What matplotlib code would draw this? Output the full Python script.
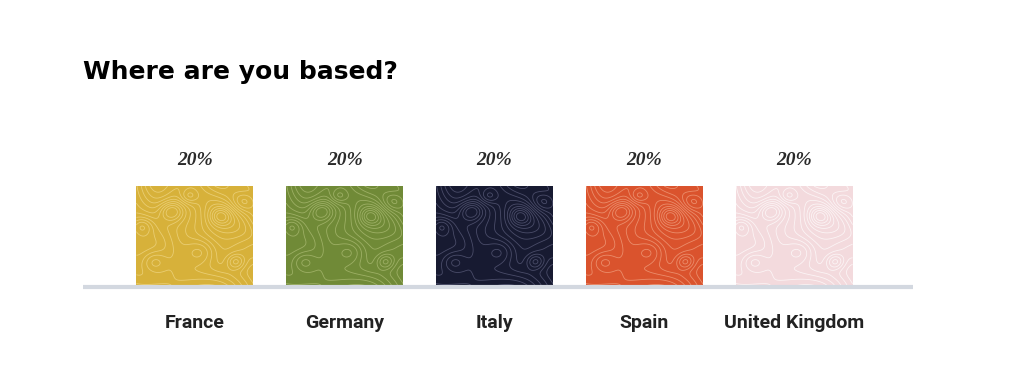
import numpy as np
import matplotlib.pyplot as plt
from matplotlib.patches import Rectangle

# ============================================================
# Data
# ============================================================
countries = ["France", "Germany", "Italy", "Spain", "United Kingdom"]
shares = [20, 20, 20, 20, 20]
bar_colors = ["#d7b13a", "#708a37", "#171a31", "#da532d", "#f3dadd"]
line_colors = ["#f1d98a", "#b0bf78", "#5f6180", "#f2a585", "#ffffff"]
title = "Where are you based?"


# ============================================================
# Helper Functions
# ============================================================
def topo_field(n=200):
    # smooth deterministic surface used only for the contour texture
    u, v = np.meshgrid(np.linspace(0, 1, n), np.linspace(0, 1, n))
    bumps = [(0.30, 0.75, 0.010, 1.0), (0.72, 0.70, 0.008, -0.8),
             (0.55, 0.35, 0.020, 0.9), (0.15, 0.25, 0.012, -0.7),
             (0.85, 0.25, 0.006, 0.8), (0.45, 0.90, 0.006, -0.6),
             (0.92, 0.85, 0.010, 0.7), (0.05, 0.60, 0.008, 0.6)]
    z = 0.6 * np.sin(4.0 * u + 3.0 * v) + 0.3 * np.cos(7.0 * u - 5.0 * v + 1.0)
    for cx, cy, s, a in bumps:
        z += a * np.exp(-((u - cx) ** 2 + (v - cy) ** 2) / s)
    z += 0.15 * np.sin(17.0 * u * v + 2.0)
    return u, v, z


def draw_topo_bar(ax, x, h, width, color, lcolor, u, v, z):
    rect = Rectangle((x - width / 2, 0), width, h, facecolor=color,
                     edgecolor="none", zorder=2)
    ax.add_patch(rect)
    cs = ax.contour(x - width / 2 + u * width, v * h, z, levels=15,
                    colors=lcolor, linewidths=0.6, alpha=0.7,
                    linestyles="solid", zorder=3)
    cs.set_clip_path(rect)


# ============================================================
# Plot
# ============================================================
fig = plt.figure(figsize=(10.24, 3.83), dpi=100)
ax = fig.add_axes([83 / 1024, 1 - 287 / 383, 830 / 1024, 147 / 383])

width = 117 / 150
u, v, z = topo_field()
for i, (c, s) in enumerate(zip(countries, shares)):
    draw_topo_bar(ax, i, s, width, bar_colors[i], line_colors[i], u, v, z)
    ax.text(i, s + 5.0, f"{s}%", ha="center", va="center", fontsize=14,
            fontweight="bold", fontstyle="italic",
            family=["Liberation Serif", "DejaVu Serif"], color="#2a2a2a")
    ax.text(i, -7.1, c, ha="center", va="center", fontsize=14,
            fontweight="bold", family=["Roboto", "DejaVu Sans"],
            color="#222222", clip_on=False)

ax.axhline(0, color="#d3d8e0", linewidth=3, zorder=4, clip_on=False,
           solid_capstyle="butt")
ax.set_xlim(-112 / 150, 4 + 119 / 150)
ax.set_ylim(0, 147 / 101 * 20)
ax.axis("off")

fig.text(83 / 1024, 1 - 72 / 383, title, ha="left", va="center",
         fontsize=18, fontweight="heavy", family=["DejaVu Sans"], color="black")

plt.savefig("out.png", dpi=100)
plt.close()
